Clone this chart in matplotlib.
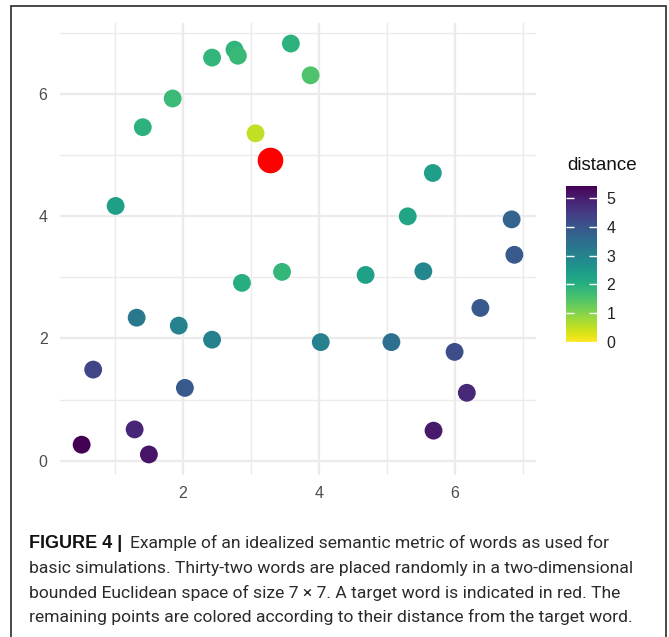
import numpy as np
import matplotlib
matplotlib.use("Agg")
import matplotlib.pyplot as plt
from matplotlib.patches import Rectangle

# word positions in the 7 x 7 space
word_x = [2.43, 2.76, 2.81, 3.59, 3.88, 1.85, 1.41, 3.07, 5.68, 1.01, 5.31,
          6.84, 6.88, 3.46, 4.69, 5.54, 2.87, 1.32, 1.94, 2.43, 4.03, 5.07,
          6.38, 6.00, 0.68, 2.03, 6.18, 0.51, 1.29, 1.50, 5.69]
word_y = [6.60, 6.73, 6.63, 6.83, 6.31, 5.93, 5.46, 5.36, 4.71, 4.17, 4.00,
          3.95, 3.37, 3.09, 3.04, 3.10, 2.91, 2.34, 2.21, 1.98, 1.94, 1.94,
          2.50, 1.78, 1.49, 1.19, 1.11, 0.26, 0.51, 0.10, 0.49]
target_x = 3.28
target_y = 4.92

x_ticks = [2, 4, 6]
y_ticks = [0, 2, 4, 6]
cbar_ticks = [0, 1, 2, 3, 4, 5]

caption_head = "FIGURE 4 |"
caption_lines = [
    "Example of an idealized semantic metric of words as used for",
    "basic simulations. Thirty-two words are placed randomly in a two-dimensional",
    "bounded Euclidean space of size 7 \u00d7 7. A target word is indicated in red. The",
    "remaining points are colored according to their distance from the target word.",
]

wx = np.array(word_x)
wy = np.array(word_y)
distance = np.sqrt((wx - target_x) ** 2 + (wy - target_y) ** 2)

plt.rcParams["font.family"] = ["Liberation Sans", "DejaVu Sans"]

W, H = 669, 637
fig = plt.figure(figsize=(W / 100, H / 100), dpi=100)

def px(x0, y0, x1, y1):
    # pixel box (top-left origin) -> figure fraction rect
    return [x0 / W, 1 - y1 / H, (x1 - x0) / W, (y1 - y0) / H]

# outer frame
fig.patches.append(Rectangle((11 / W, -0.05), 655 / W, 1.05 - 6 / H,
                             transform=fig.transFigure, fill=False,
                             edgecolor="#3a3a3a", linewidth=1.3))

ax = fig.add_axes(px(60, 23, 536, 475))
ax.set_facecolor("white")
for s in ax.spines.values():
    s.set_visible(False)

sc = ax.scatter(wx, wy, c=distance, cmap="viridis_r", vmin=0,
                vmax=distance.max(), s=165, linewidths=0, zorder=3)
ax.scatter([target_x], [target_y], color="#ff0000", s=340, linewidths=0,
           zorder=4)

allx = np.append(wx, target_x)
ally = np.append(wy, target_y)
dx = (allx.max() - allx.min()) * 0.05
dy = (ally.max() - ally.min()) * 0.05
ax.set_xlim(allx.min() - dx, allx.max() + dx)
ax.set_ylim(ally.min() - dy, ally.max() + dy)

ax.set_xticks(x_ticks)
ax.set_yticks(y_ticks)
ax.set_xticks([1, 3, 5, 7], minor=True)
ax.set_yticks([1, 3, 5, 7], minor=True)
ax.grid(True, which="major", color="#ebebeb", linewidth=1.6, zorder=0)
ax.grid(True, which="minor", color="#ebebeb", linewidth=1.0, zorder=0)
ax.set_axisbelow(True)
ax.tick_params(which="both", length=0, labelsize=11.5, labelcolor="#4d4d4d")
ax.tick_params(axis="x", pad=8)
ax.tick_params(axis="y", pad=9)

# colour legend
cax = fig.add_axes(px(566, 186, 597, 342))
cb = fig.colorbar(sc, cax=cax, ticks=cbar_ticks)
cb.outline.set_visible(False)
cax.tick_params(axis="y", direction="in", color="white", length=6,
                width=1.0, left=True, right=True, labelleft=False,
                labelright=True, labelsize=11.5, labelcolor="#222222", pad=7)
fig.text(567 / W, 1 - 166 / H, "distance", fontsize=13.5, color="#111111",
         va="center", ha="left")

# caption
fig.text(29 / W, 1 - 543 / H, caption_head, fontsize=13,
         fontweight="bold", color="#111111", va="center", ha="left")
line_y = [543, 568, 593, 617]
for i, (txt, yy) in enumerate(zip(caption_lines, line_y)):
    x0 = 130 if i == 0 else 29
    fig.text(x0 / W, 1 - yy / H, txt, fontsize=12.6, color="#2b2b2b",
             va="center", ha="left", family="Roboto")

fig.savefig("out.png", dpi=100)
